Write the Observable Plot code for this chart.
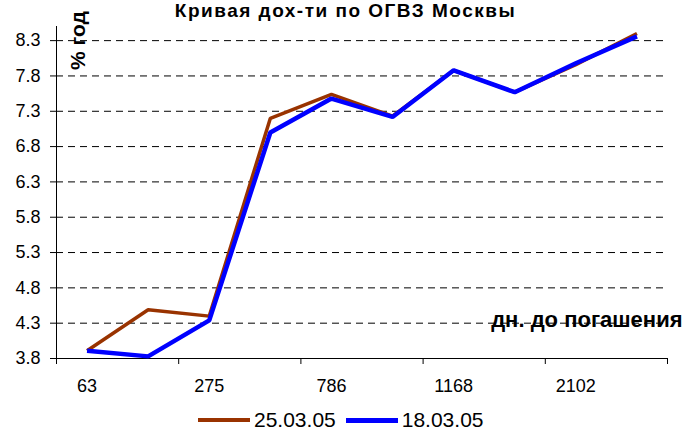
<!DOCTYPE html>
<html><head><meta charset="utf-8">
<script src="https://cdn.jsdelivr.net/npm/d3@7"></script>
<script src="https://cdn.jsdelivr.net/npm/@observablehq/plot@0.6"></script>
<style>
body{margin:0;background:#fff;font-family:"Liberation Sans",Arial,sans-serif;}
#title{width:699px;height:22px;line-height:22px;text-align:center;font-weight:bold;font-size:19px;letter-spacing:1.5px;box-sizing:border-box;padding-right:8px;white-space:nowrap;}
#legend{height:30px;display:flex;align-items:center;padding-left:198px;padding-top:3px;font-size:21px;}
#legend .sw{display:inline-block;width:52px;margin-right:4px;}
#legend .it{display:flex;align-items:center;margin-right:10px;}
</style></head>
<body>
<div id="title">Кривая дох-ти по ОГВЗ Москвы</div>
<div id="chart"></div>
<div id="legend"></div>
<script>
const tickLabels = ["63", "", "275", "", "786", "", "1168", "", "2102", ""];
const seriesNames = ["25.03.05", "18.03.05"];
const yield250305 = [3.91, 4.49, 4.40, 7.20, 7.54, 7.23, 7.88, 7.57, 7.96, 8.40];
const yield180305 = [3.91, 3.83, 4.34, 7.00, 7.48, 7.22, 7.88, 7.57, 7.98, 8.36];
const yTicks = [3.8, 4.3, 4.8, 5.3, 5.8, 6.3, 6.8, 7.3, 7.8, 8.3];
const colors = ["#993300", "#0000ff"];
const yTitle = "% год";
const xTitle = "дн. до погашения";

const n = tickLabels.length;
const rows = [];
[yield250305, yield180305].forEach((arr, k) => arr.forEach((v, i) => rows.push({x: i + 0.5, y: v, s: seriesNames[k]})));
const labeledPos = tickLabels.map((t, i) => t ? i + 0.5 : null).filter(d => d !== null);

const plot = Plot.plot({
  width: 699, height: 380,
  marginLeft: 56, marginRight: 32, marginTop: 4, marginBottom: 44,
  style: {fontFamily: "Liberation Sans, Arial, sans-serif", fontSize: "18px", overflow: "visible", color: "#000"},
  x: {domain: [0, n], axis: null},
  y: {domain: [3.8, 8.5], axis: null},
  color: {domain: seriesNames, range: colors},
  marks: [
    Plot.gridY(yTicks, {stroke: "#000", strokeOpacity: 1, strokeDasharray: "7,5"}),
    Plot.ruleX([0], {stroke: "#000"}),
    Plot.ruleY([3.8], {stroke: "#000"}),
    Plot.axisY(yTicks, {tickSize: 6, tickPadding: 10, tickFormat: d3.format(".1f"), label: null}),
    Plot.axisX(d3.range(0, n + 1, 2), {tickSize: 6, tickFormat: () => "", label: null}),
    Plot.axisX(labeledPos, {tickSize: 0, tickPadding: 21, tickFormat: d => tickLabels[d - 0.5], label: null}),
    Plot.line(rows.filter(r => r.s === seriesNames[0]), {x: "x", y: "y", stroke: "s", strokeWidth: 3.5, strokeLinecap: "butt", strokeLinejoin: "miter"}),
    Plot.line(rows.filter(r => r.s === seriesNames[1]), {x: "x", y: "y", stroke: "s", strokeWidth: 4.5, strokeLinecap: "butt", strokeLinejoin: "miter"}),
    Plot.text([yTitle], {frameAnchor: "top-left", rotate: -90, dx: 14, dy: 14, fontWeight: "bold", fontSize: 21, textAnchor: "middle"}),
    Plot.text([xTitle], {frameAnchor: "bottom-right", dx: 15, dy: -32, fontWeight: "bold", fontSize: 22, textAnchor: "end"})
  ]
});
document.getElementById("chart").appendChild(plot);

const leg = document.getElementById("legend");
seriesNames.forEach((s, k) => {
  const it = document.createElement("span");
  it.className = "it";
  const sw = document.createElement("span");
  sw.className = "sw";
  sw.style.height = (k === 0 ? 4 : 5) + "px";
  sw.style.background = colors[k];
  const t = document.createElement("span");
  t.textContent = s;
  it.appendChild(sw); it.appendChild(t);
  leg.appendChild(it);
});
</script>
</body></html>
